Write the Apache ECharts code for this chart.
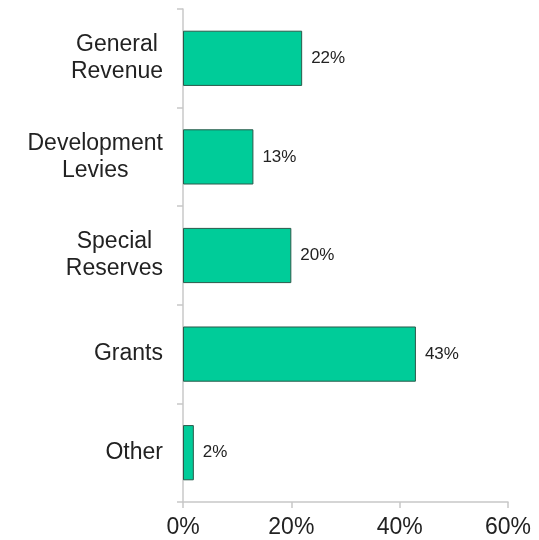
<!DOCTYPE html>
<html><head><meta charset="utf-8">
<script src="https://cdn.jsdelivr.net/npm/echarts@6/dist/echarts.min.js"></script>
<style>html,body{margin:0;padding:0;background:#fff}#c{width:539px;height:540px}</style>
</head><body><div id="c"></div>
<script>
const categories = ["General\nRevenue", "Development\nLevies", "Special\nReserves", "Grants", "Other"];
const values = [22, 13, 20, 43, 2];
const xTicks = [0, 20, 40, 60];

const chart = echarts.init(document.getElementById('c'));
chart.setOption({
  animation: false,
  grid: {left: 183, right: 31, top: 9, bottom: 38},
  xAxis: {
    type: 'value', min: xTicks[0], max: xTicks[xTicks.length-1], interval: 20,
    axisLine: {show: true, lineStyle: {color: '#c8c8c8', width: 1.5}},
    axisTick: {show: true, length: 6, lineStyle: {color: '#c8c8c8', width: 1.5}},
    splitLine: {show: false},
    axisLabel: {formatter: '{value}%', color: '#222', fontSize: 23, fontFamily: 'Liberation Sans, Arial', margin: 14}
  },
  yAxis: {
    type: 'category', data: categories, inverse: true,
    axisLine: {show: true, lineStyle: {color: '#c8c8c8', width: 1.5}},
    axisTick: {show: true, length: 6, lineStyle: {color: '#c8c8c8', width: 1.5}},
    axisLabel: {
      margin: 20, align: 'right',
      formatter: function (v) { return v.split('\n').map(function (s) { return '{c|' + s + '}'; }).join('\n'); },
      rich: {c: {color: '#222', fontSize: 23, fontFamily: 'Liberation Sans, Arial', lineHeight: 27, align: 'center'}}
    }
  },
  series: [{
    type: 'bar', data: values, barCategoryGap: '44%',
    itemStyle: {color: '#00CC99', borderColor: '#2a5a4a', borderWidth: 1},
    label: {show: true, position: 'right', distance: 9, formatter: '{c}%', color: '#222', fontSize: 17, fontFamily: 'Liberation Sans, Arial'}
  }]
});
</script></body></html>
